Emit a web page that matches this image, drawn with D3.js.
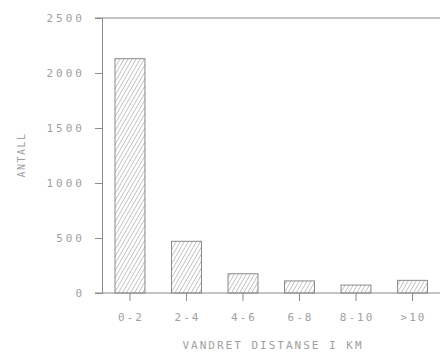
<!DOCTYPE html>
<html><head><meta charset="utf-8">
<script src="https://cdn.jsdelivr.net/npm/d3@7/dist/d3.min.js"></script>
<style>body{margin:0;background:#fff}svg{display:block}</style>
</head><body>
<svg id="c" width="440" height="354"></svg>
<script>
const categories = ["0-2","2-4","4-6","6-8","8-10",">10"];
const values = [2130, 470, 175, 110, 72, 115];
const yTicks = [0, 500, 1000, 1500, 2000, 2500];
const xTitle = "VANDRET DISTANSE I KM";
const yTitle = "ANTALL";

const svg = d3.select("#c");
const ink = "#8a8a8a", txt = "#a0a0a0";
const font = "'DejaVu Sans Mono', monospace";

const defs = svg.append("defs");
const pat = defs.append("pattern").attr("id","hatch").attr("patternUnits","userSpaceOnUse")
  .attr("width",3.5).attr("height",4).attr("patternTransform","rotate(30)");
pat.append("line").attr("x1",0).attr("y1",0).attr("x2",0).attr("y2",4)
  .attr("stroke","#9a9a9a").attr("stroke-width",1.1);

const x = d3.scaleBand().domain(categories).range([102, 440.5]).paddingInner(0.47).paddingOuter(0.23);
const y = d3.scaleLinear().domain([0, 2500]).range([293, 18]);

// top frame line
svg.append("line").attr("x1",95).attr("x2",440).attr("y1",y(2500)).attr("y2",y(2500))
  .attr("stroke",ink).attr("stroke-width",1);

// y axis
const ya = svg.append("g").attr("transform","translate(102,0)")
  .call(d3.axisLeft(y).tickValues(yTicks).tickSize(7).tickPadding(10).tickFormat(d3.format("d")));
ya.select(".domain").attr("stroke",ink);
ya.selectAll(".tick line").attr("stroke",ink);
ya.selectAll(".tick text").attr("fill",txt).style("font-family",font).style("font-size","11px").style("letter-spacing","3px");

// bars
svg.append("g").selectAll("rect").data(values).join("rect")
  .attr("x",(d,i)=>x(categories[i])).attr("width",x.bandwidth())
  .attr("y",d=>y(d)).attr("height",d=>y(0)-y(d))
  .attr("fill","url(#hatch)").attr("stroke",ink).attr("stroke-width",1);

// x axis
const xa = svg.append("g").attr("transform",`translate(0,${y(0)})`)
  .call(d3.axisBottom(x).tickSize(8).tickPadding(12));
xa.select(".domain").remove();
xa.selectAll(".tick line").attr("stroke",ink);
xa.selectAll(".tick text").attr("fill",txt).attr("dx","1px").style("font-family",font).style("font-size","11px").style("letter-spacing","2px");
svg.append("line").attr("x1",95).attr("x2",440).attr("y1",y(0)).attr("y2",y(0))
  .attr("stroke",ink).attr("stroke-width",1);

// titles
svg.append("text").attr("x",273).attr("y",349).attr("text-anchor","middle")
  .attr("fill",txt).style("font-family",font).style("font-size","11px").style("letter-spacing","2px").text(xTitle);
svg.append("text").attr("transform","translate(25,155) rotate(-90)").attr("text-anchor","middle")
  .attr("fill",txt).style("font-family",font).style("font-size","10px").style("letter-spacing","1.5px").text(yTitle);
</script>
</body></html>
